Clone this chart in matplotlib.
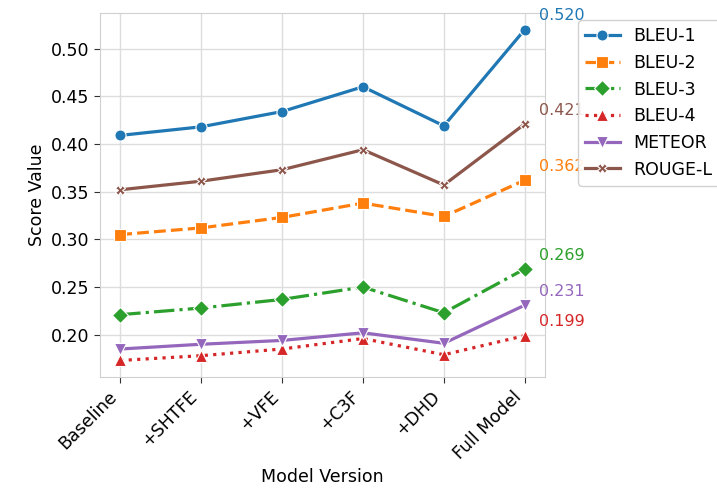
import matplotlib.pyplot as plt

# Ablation results per model version
versions = ['Baseline', '+SHTFE', '+VFE', '+C3F', '+DHD', 'Full Model']
bleu1 = [0.409, 0.418, 0.434, 0.460, 0.419, 0.520]
bleu2 = [0.305, 0.312, 0.323, 0.338, 0.324, 0.362]
bleu3 = [0.221, 0.228, 0.237, 0.250, 0.223, 0.269]
bleu4 = [0.173, 0.178, 0.185, 0.196, 0.179, 0.199]
meteor = [0.185, 0.190, 0.194, 0.202, 0.191, 0.231]
rouge_l = [0.352, 0.361, 0.373, 0.394, 0.357, 0.421]

metrics = [
    ('BLEU-1', bleu1, '#1f77b4', '-', 'o', 8),
    ('BLEU-2', bleu2, '#ff7f0e', '--', 's', 8),
    ('BLEU-3', bleu3, '#2ca02c', '-.', 'D', 8),
    ('BLEU-4', bleu4, '#d62728', ':', '^', 8),
    ('METEOR', meteor, '#9467bd', '-', 'v', 8),
    ('ROUGE-L', rouge_l, '#8c564b', '-', 'X', 7),
]

fig, ax = plt.subplots(figsize=(7.17, 4.99), dpi=100)
fig.subplots_adjust(left=100/717, right=545/717, top=1-13/499, bottom=1-377/499)

x = list(range(len(versions)))
for name, vals, color, ls, marker, ms in metrics:
    ax.plot(x, vals, color=color, linestyle=ls, linewidth=2.3, marker=marker,
            markersize=ms, markeredgecolor='white', markeredgewidth=0.8, label=name)
    # final score next to the last point
    ax.annotate(f'{vals[-1]:.3f}', xy=(x[-1], vals[-1]), xytext=(10, 10),
                textcoords='offset points', ha='left', va='center',
                fontsize=11.5, color=color, annotation_clip=False)

ax.set_xticks(x)
ax.set_xticklabels(versions, rotation=45, ha='right', fontsize=12.5)
ax.tick_params(axis='y', labelsize=12.5)
ax.tick_params(length=4, color='#333333')
ax.set_xlim(-0.25, 5.25)
ax.set_xlabel('Model Version', fontsize=12.5)
ax.set_ylabel('Score Value', fontsize=12.5)
ax.grid(True, color='#dddddd', linewidth=1)
ax.set_axisbelow(True)
for sp in ax.spines.values():
    sp.set_color('#d0d0d0')

leg = ax.legend(loc='upper left', bbox_to_anchor=(1.055, 1.004), fontsize=12.5,
                frameon=True, fancybox=True, framealpha=0.9, edgecolor='#cccccc')

plt.savefig('out.png', dpi=100)
